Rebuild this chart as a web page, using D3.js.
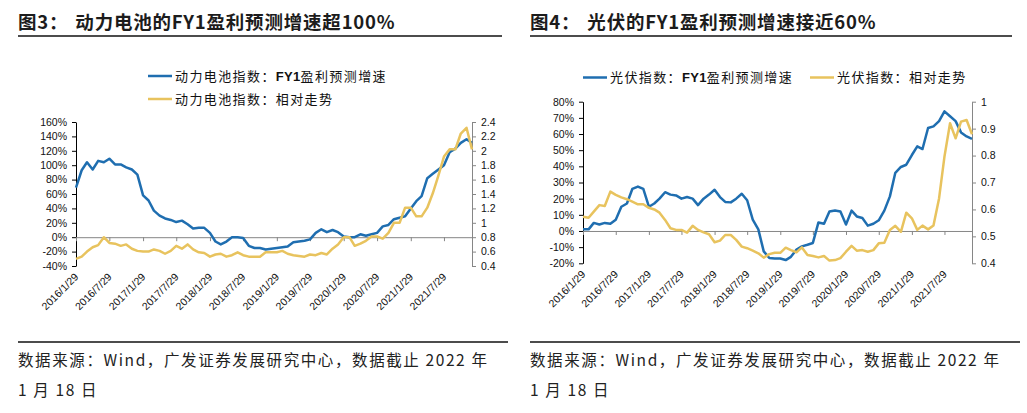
<!DOCTYPE html>
<html>
<head>
<meta charset="utf-8">
<script src="https://cdn.jsdelivr.net/npm/d3@7"></script>
<style>
  body { margin: 0; background: #fff; }
  svg text { font-family: "Liberation Sans", Arial, sans-serif; }
  .cjk { font-family: "Noto Sans CJK SC", "Liberation Sans", sans-serif; }
</style>
</head>
<body>
<svg width="1027" height="413"></svg>
<script>
// monthly observation dates (category axis)
const dates = [
  "2016/1/29","2016/2/29","2016/3/29","2016/4/29","2016/5/29","2016/6/29","2016/7/29","2016/8/29","2016/9/29","2016/10/29","2016/11/29","2016/12/29",
  "2017/1/29","2017/2/28","2017/3/29","2017/4/29","2017/5/29","2017/6/29","2017/7/29","2017/8/29","2017/9/29","2017/10/29","2017/11/29","2017/12/29",
  "2018/1/29","2018/2/28","2018/3/29","2018/4/29","2018/5/29","2018/6/29","2018/7/29","2018/8/29","2018/9/29","2018/10/29","2018/11/29","2018/12/29",
  "2019/1/29","2019/2/28","2019/3/29","2019/4/29","2019/5/29","2019/6/29","2019/7/29","2019/8/29","2019/9/29","2019/10/29","2019/11/29","2019/12/29",
  "2020/1/29","2020/2/29","2020/3/29","2020/4/29","2020/5/29","2020/6/29","2020/7/29","2020/8/29","2020/9/29","2020/10/29","2020/11/29","2020/12/29",
  "2021/1/29","2021/2/28","2021/3/29","2021/4/29","2021/5/29","2021/6/29","2021/7/29","2021/8/29","2021/9/29","2021/10/29","2021/11/29","2021/12/29"
];
const tickLabels = ["2016/1/29","2016/7/29","2017/1/29","2017/7/29","2018/1/29","2018/7/29",
  "2019/1/29","2019/7/29","2020/1/29","2020/7/29","2021/1/29","2021/7/29"];

// 图3 动力电池 (growth in %, relative trend on right axis)
const batteryGrowth = [69,93,104,94,106,104,109,101,101,97,
  94,87,58,51,37,30,26,24,21,23,
  18,12,13,13,6,-6,-10,-6,0,0,
  -1,-12,-15,-15,-17,-16,-15,-14,-13,-7,
  -6,-5,-3,6,11,7,10,7,1,0,
  0,4,2,4,6,15,17,25,27,29,
  40,50,57,82,88,94,100,118,123,131,
  136,131];
const batteryRel = [.50,.53,.60,.66,.69,.80,.72,.71,.68,.70,
  .64,.61,.60,.60,.63,.61,.57,.61,.68,.64,
  .70,.63,.59,.58,.53,.56,.57,.53,.55,.59,
  .55,.53,.53,.53,.59,.59,.59,.61,.57,.55,
  .54,.53,.56,.55,.58,.56,.64,.70,.80,.80,
  .68,.71,.75,.81,.81,.78,.86,1.00,1.00,1.21,
  1.21,1.09,1.09,1.21,1.41,1.66,1.92,2.02,2.02,2.24,
  2.32,2.02];

// 图4 光伏
const solarGrowth = [1,1,5,4,5,4.5,7,15,17,26,
  27.5,26,15,17,20,24,22.5,22,20,21,
  20,16,20,22.5,25.5,21,18,17.7,20,23,
  19,7,1,-12.6,-16.7,-17,-17,-18,-16,-11.5,
  -9.5,-8.5,-7.4,5.3,4.5,12,12.7,12,4,12.6,
  9,8,3.3,4.5,6.6,12.6,21.4,36,39.6,41,
  47,52.4,50.7,63.7,64.7,68,74,71,68,61,
  58.5,57];
const solarRel = [.573,.569,.592,.616,.613,.666,.654,.645,.638,.629,
  .619,.619,.606,.600,.588,.561,.530,.524,.524,.514,
  .539,.524,.515,.508,.478,.484,.505,.505,.487,.462,
  .456,.447,.437,.421,.434,.439,.439,.458,.449,.441,
  .459,.431,.427,.422,.427,.410,.412,.419,.443,.465,
  .447,.449,.443,.449,.474,.476,.524,.539,.517,.588,
  .567,.524,.540,.526,.540,.641,.796,.920,.864,.926,
  .932,.879];

const BLUE = '#1f6eb0', GOLD = '#e8c35e', GREY = '#868686';
const parse = d3.timeParse('%Y/%m/%d');
const dateObjs = dates.map(parse);
const tickDates = tickLabels.map(parse);

const svg = d3.select('svg');

const panels = [
  {
    ox: 18, lineEnd: 502,
    title: ['图3：', '动力电池的', 'FY1', '盈利预测增速超', '100%'],
    plot: {l: 76, r: 472, t: 122, b: 266},
    yL: [-40, 160], yR: [0.4, 2.4],
    growth: batteryGrowth, rel: batteryRel,
    legend: [
      {x: 148, y: 76, color: BLUE, parts: ['动力电池指数：', 'FY1', '盈利预测增速']},
      {x: 148, y: 99, color: GOLD, parts: ['动力电池指数：相对走势']}
    ]
  },
  {
    ox: 530, lineEnd: 1012,
    title: ['图4：', '光伏的', 'FY1', '盈利预测增速接近', '60%'],
    plot: {l: 583, r: 972, t: 101.7, b: 263.3},
    yL: [-20, 80], yR: [0.4, 1.0],
    growth: solarGrowth, rel: solarRel,
    legend: [
      {x: 583, y: 77.5, color: BLUE, parts: ['光伏指数：', 'FY1', '盈利预测增速']},
      {x: 810, y: 77.5, color: GOLD, parts: ['光伏指数：相对走势']}
    ]
  }
];

panels.forEach(drawPanel);

function drawPanel(p) {
  const g = svg.append('g');

  // title
  const t = g.append('text').attr('class', 'cjk')
    .attr('x', p.ox).attr('y', 29)
    .attr('font-size', 18.5).attr('font-weight', 700)
    .attr('letter-spacing', 0.8).attr('fill', '#1c1c1c');
  p.title.forEach((s, i) => t.append('tspan').attr('dx', i === 1 ? 7 : null).text(s));
  g.append('line').attr('x1', p.ox).attr('x2', p.lineEnd)
    .attr('y1', 36).attr('y2', 36).attr('stroke', '#111').attr('stroke-width', 1.3);

  // legend
  p.legend.forEach(item => {
    g.append('line').attr('x1', item.x).attr('x2', item.x + 24)
      .attr('y1', item.y).attr('y2', item.y)
      .attr('stroke', item.color).attr('stroke-width', 2.5);
    const lt = g.append('text').attr('class', 'cjk')
      .attr('x', item.x + 27).attr('y', item.y + 4.5)
      .attr('font-size', 13).attr('letter-spacing', 1.4).attr('fill', '#111');
    item.parts.forEach(s => lt.append('tspan')
      .attr('font-weight', s === 'FY1' ? 700 : 400)
      .attr('font-family', s === 'FY1' ? 'Liberation Sans, Arial, sans-serif' : null)
      .attr('letter-spacing', s === 'FY1' ? 0.3 : null)
      .text(s));
  });

  const x = d3.scaleTime()
    .domain([dateObjs[0], dateObjs[dateObjs.length - 1]])
    .range([p.plot.l, p.plot.r]);
  const yL = d3.scaleLinear().domain(p.yL).range([p.plot.b, p.plot.t]);
  const yR = d3.scaleLinear().domain(p.yR).range([p.plot.b, p.plot.t]);

  // left axis
  const ax1 = g.append('g').attr('transform', `translate(${p.plot.l},0)`)
    .call(d3.axisLeft(yL).ticks(10).tickSize(4).tickSizeOuter(0).tickPadding(5)
      .tickFormat(d => d + '%'));
  styleAxis(ax1, '#000');

  // right axis
  const ax2 = g.append('g').attr('transform', `translate(${p.plot.r},0)`)
    .call(d3.axisRight(yR).ticks(p.yR[1] > 2 ? 10 : 6).tickSize(4).tickSizeOuter(0).tickPadding(5)
      .tickFormat(d3.format('~g')));
  styleAxis(ax2, GREY);

  // x axis line at zero
  const ax3 = g.append('g').attr('transform', `translate(0,${yL(0)})`)
    .call(d3.axisBottom(x).tickValues(tickDates).tickSize(4).tickSizeOuter(0).tickFormat(''));
  styleAxis(ax3, GREY);

  // rotated date labels at the bottom of the plot
  const ax4 = g.append('g').attr('transform', `translate(0,${p.plot.b})`)
    .call(d3.axisBottom(x).tickValues(tickDates).tickSize(0)
      .tickFormat((d, i) => tickLabels[i]));
  ax4.select('.domain').remove();
  styleAxis(ax4, '#000');
  ax4.selectAll('text')
    .attr('text-anchor', 'end')
    .attr('y', 0).attr('dy', '0.35em')
    .attr('transform', 'translate(0,9) rotate(-45)');

  // series: growth on left axis, relative trend on right axis (drawn on top)
  const lineL = d3.line().x((d, i) => x(dateObjs[i])).y(d => yL(d));
  const lineR = d3.line().x((d, i) => x(dateObjs[i])).y(d => yR(d));

  g.append('path').datum(p.growth)
    .attr('d', lineL).attr('fill', 'none')
    .attr('stroke', BLUE).attr('stroke-width', 2.5).attr('stroke-linejoin', 'round');
  g.append('path').datum(p.rel)
    .attr('d', lineR).attr('fill', 'none')
    .attr('stroke', GOLD).attr('stroke-width', 2.5).attr('stroke-linejoin', 'round');

  // footer
  const fy = 342;
  g.append('line').attr('x1', p.ox).attr('x2', p.ox + 490)
    .attr('y1', fy).attr('y2', fy).attr('stroke', '#111').attr('stroke-width', 1.3);
  g.append('text').attr('class', 'cjk').attr('x', p.ox).attr('y', 366)
    .attr('font-size', 15.5).attr('letter-spacing', 1.6).attr('fill', '#222')
    .text('数据来源：Wind，广发证券发展研究中心，数据截止 2022 年');
  g.append('text').attr('class', 'cjk').attr('x', p.ox).attr('y', 396)
    .attr('font-size', 15.5).attr('letter-spacing', 1.6).attr('fill', '#222')
    .text('1 月 18 日');
}

function styleAxis(sel, color) {
  sel.attr('font-family', 'Liberation Sans, Arial, sans-serif')
    .attr('font-size', 10.5);
  sel.select('.domain').attr('stroke', color);
  sel.selectAll('.tick line').attr('stroke', color);
  sel.selectAll('.tick text').attr('fill', '#111');
}
</script>
</body>
</html>
